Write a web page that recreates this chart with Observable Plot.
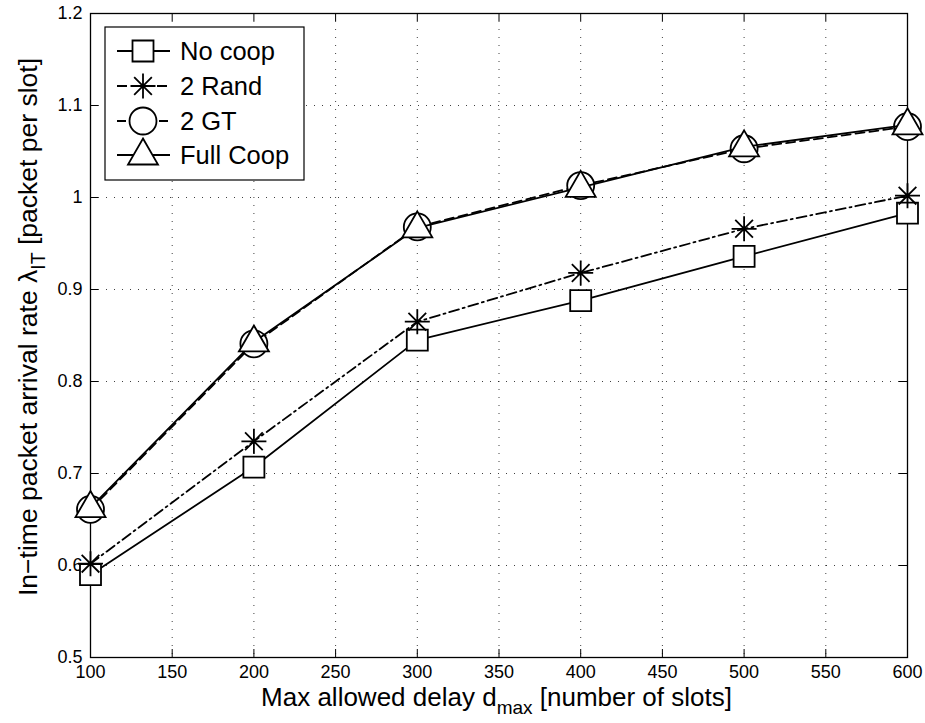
<!DOCTYPE html>
<html><head><meta charset="utf-8">
<script src="https://cdn.jsdelivr.net/npm/d3@7"></script>
<script src="https://cdn.jsdelivr.net/npm/@observablehq/plot@0.6"></script>
<style>body{margin:0;background:#fff;}</style>
</head><body><div id="chart"></div>
<script>
// ---- data ----
const delays   = [100, 200, 300, 400, 500, 600];
const noCoop   = [0.590, 0.707, 0.845, 0.888, 0.936, 0.983];
const rand2    = [0.602, 0.735, 0.865, 0.918, 0.966, 1.002];
const gt2      = [0.661, 0.841, 0.968, 1.013, 1.053, 1.077];
const fullCoop = [0.663, 0.843, 0.967, 1.011, 1.055, 1.079];
const seriesNames = ["No coop", "2 Rand", "2 GT", "Full Coop"];
const xTicks = [100, 150, 200, 250, 300, 350, 400, 450, 500, 550, 600];
const xTickLabels = ["100","150","200","250","300","350","400","450","500","550","600"];
const yTicks = [0.5, 0.6, 0.7, 0.8, 0.9, 1, 1.1, 1.2];
const yTickLabels = ["0.5","0.6","0.7","0.8","0.9","1","1.1","1.2"];
const xLabelMain = "Max allowed delay d", xLabelSub = "max", xLabelRest = " [number of slots]";
const yLabelMain = "In\u2212time packet arrival rate \u03BB", yLabelSub = "IT", yLabelRest = " [packet per slot]";

// ---- symbols ----
const squareSym = {draw(c){c.moveTo(-10.5,-10.5);c.lineTo(10.5,-10.5);c.lineTo(10.5,10.5);c.lineTo(-10.5,10.5);c.closePath();}};
const circleSym = {draw(c){c.moveTo(13.5,0);c.arc(0,0,13.5,0,2*Math.PI);c.closePath();}};
const triSym = {draw(c){c.moveTo(0,-16.5);c.lineTo(15,9.5);c.lineTo(-15,9.5);c.closePath();}};
const starSym = {draw(c){const a=12.5,d=a*Math.SQRT1_2;c.moveTo(-a,0);c.lineTo(a,0);c.moveTo(0,-a);c.lineTo(0,a);c.moveTo(-d,-d);c.lineTo(d,d);c.moveTo(-d,d);c.lineTo(d,-d);}};

const series = [
  {name: seriesNames[0], values: noCoop,   dash: null,       sym: squareSym, fill: "white"},
  {name: seriesNames[1], values: rand2,    dash: "10,4,2,4", sym: starSym,   fill: "none"},
  {name: seriesNames[2], values: gt2,      dash: "9,5",      sym: circleSym, fill: "white"},
  {name: seriesNames[3], values: fullCoop, dash: null,       sym: triSym,    fill: "white"}
];

const W = 925, H = 723, mL = 90, mR = 18, mT = 13, mB = 66;
const innerW = W - mL - mR, innerH = H - mT - mB;

const marks = [
  Plot.gridX({ticks: xTicks, stroke: "#000", strokeOpacity: 0.75, strokeDasharray: "1,7"}),
  Plot.gridY({ticks: yTicks, stroke: "#000", strokeOpacity: 0.75, strokeDasharray: "1,7"}),
  Plot.tickX(xTicks, {x: d => d, insetTop: innerH - 8, stroke: "black"}),
  Plot.tickX(xTicks, {x: d => d, insetBottom: innerH - 8, stroke: "black"}),
  Plot.tickY(yTicks, {y: d => d, insetRight: innerW - 8, stroke: "black"}),
  Plot.tickY(yTicks, {y: d => d, insetLeft: innerW - 8, stroke: "black"}),
  Plot.frame({stroke: "black", strokeWidth: 1.3}),
  Plot.axisX({ticks: xTicks, tickSize: 0, tickPadding: 8, fontSize: 18, label: null,
    tickFormat: d => xTickLabels[xTicks.indexOf(d)]}),
  Plot.axisY({ticks: yTicks, tickSize: 0, tickPadding: 8, fontSize: 18, label: null,
    tickFormat: d => yTickLabels[yTicks.indexOf(d)]})
];
for (const s of series) {
  const rows = delays.map((d, i) => ({delay: d, value: s.values[i]}));
  marks.push(Plot.line(rows, {x: "delay", y: "value", stroke: "black", strokeWidth: 1.8,
    strokeDasharray: s.dash, strokeLinejoin: "miter"}));
  marks.push(Plot.dot(rows, {x: "delay", y: "value", symbol: s.sym, stroke: "black",
    strokeWidth: 1.8, fill: s.fill}));
}

const svg = Plot.plot({
  width: W, height: H,
  marginLeft: mL, marginRight: mR, marginTop: mT, marginBottom: mB,
  x: {domain: [100, 600]},
  y: {domain: [0.5, 1.2]},
  style: {fontFamily: "'Liberation Sans', Arial, Helvetica, sans-serif", color: "black", background: "white", overflow: "visible"},
  marks
});
document.getElementById("chart").appendChild(svg);

// ---- axis labels ----
const s = d3.select(svg);
const font = "'Liberation Sans', Arial, Helvetica, sans-serif";
const xl = s.append("text").attr("x", mL + innerW / 2 - 2).attr("y", 706)
  .attr("text-anchor", "middle").attr("font-size", 26).attr("font-family", font).attr("fill", "black");
xl.append("tspan").text(xLabelMain);
xl.append("tspan").attr("dy", 8).attr("font-size", 19).text(xLabelSub);
xl.append("tspan").attr("dy", -8).text(xLabelRest);

const yl = s.append("text").attr("transform", `translate(37,${mT + innerH / 2 - 8}) rotate(-90)`)
  .attr("text-anchor", "middle").attr("font-size", 26.5).attr("font-family", font).attr("fill", "black");
yl.append("tspan").text(yLabelMain);
yl.append("tspan").attr("dy", 8).attr("font-size", 19.5).text(yLabelSub);
yl.append("tspan").attr("dy", -8).text(yLabelRest);

// ---- legend ----
const lg = s.append("g");
lg.append("rect").attr("x", 105).attr("y", 27).attr("width", 199).attr("height", 153)
  .attr("fill", "white").attr("stroke", "black").attr("stroke-width", 1.2);
const rowsY = [51, 86, 121, 155];
series.forEach((ser, i) => {
  const cy = rowsY[i];
  lg.append("line").attr("x1", 117).attr("x2", 170).attr("y1", cy).attr("y2", cy)
    .attr("stroke", "black").attr("stroke-width", 1.8).attr("stroke-dasharray", ser.dash);
  const p = d3.path(); ser.sym.draw(p);
  lg.append("path").attr("d", p.toString()).attr("transform", `translate(143,${cy})`)
    .attr("fill", ser.fill).attr("stroke", "black").attr("stroke-width", 1.8);
  lg.append("text").attr("x", 180).attr("y", cy).attr("dy", "0.36em").attr("text-anchor", "start")
    .attr("font-size", 25.5).attr("font-family", font).attr("fill", "black").text(ser.name);
});
</script>
</body></html>
